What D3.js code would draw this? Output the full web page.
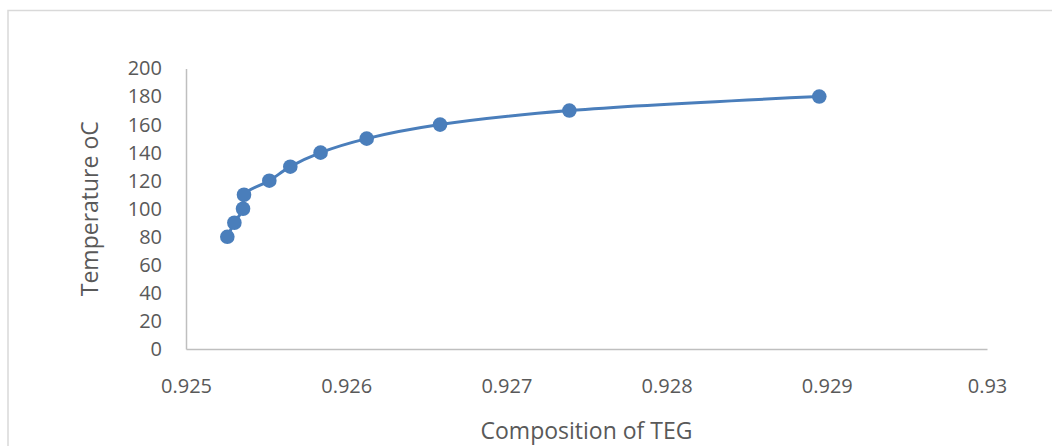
<!DOCTYPE html>
<html>
<head>
<meta charset="utf-8">
<script src="https://cdn.jsdelivr.net/npm/d3@7"></script>
<style>
  html, body { margin: 0; padding: 0; background: #fff; }
  svg { display: block; }
  text { font-family: "Open Sans", "Lato", sans-serif; fill: #595959; }
</style>
</head>
<body>
<svg id="chart" width="1052" height="446"></svg>
<script>
// TEG composition vs. temperature
const composition = [0.925258, 0.925302, 0.925356, 0.925362, 0.925520, 0.925651,
                     0.925840, 0.926128, 0.926586, 0.927393, 0.928953];
const temperature = [80, 90, 100, 110, 120, 130, 140, 150, 160, 170, 180];
const xTicks = [0.925, 0.926, 0.927, 0.928, 0.929, 0.93];
const yTicks = [0, 20, 40, 60, 80, 100, 120, 140, 160, 180, 200];
const xTitle = "Composition of TEG";
const yTitle = "Temperature oC";

const svg = d3.select("#chart");

// outer chart frame
svg.append("rect")
  .attr("x", 8).attr("y", 10.5)
  .attr("width", 1100).attr("height", 500)
  .attr("fill", "none").attr("stroke", "#d9d9d9").attr("stroke-width", 1.5);

const plot = { left: 186, right: 987, top: 68.5, bottom: 349 };

const x = d3.scaleLinear().domain([0.925, 0.93]).range([plot.left, plot.right]);
const y = d3.scaleLinear().domain([0, 200]).range([plot.bottom, plot.top]);

// x axis
const xAxis = svg.append("g")
  .attr("transform", `translate(0,${plot.bottom})`)
  .call(d3.axisBottom(x).tickValues(xTicks).tickSize(0).tickPadding(30)
        .tickFormat(d => String(+d.toFixed(3))));
xAxis.select(".domain").attr("stroke", "#bfbfbf").attr("stroke-width", 1.5);
xAxis.selectAll("text").attr("font-size", 20).attr("fill", "#595959")
  .style("font-family", "'Open Sans', sans-serif");

// y axis
const yAxis = svg.append("g")
  .attr("transform", `translate(${plot.left},0)`)
  .call(d3.axisLeft(y).tickValues(yTicks).tickSize(0).tickPadding(24));
yAxis.select(".domain").attr("stroke", "#bfbfbf").attr("stroke-width", 1.5);
yAxis.selectAll("text").attr("font-size", 20).attr("fill", "#595959")
  .style("font-family", "'Open Sans', sans-serif");

// axis titles
svg.append("text")
  .attr("x", (plot.left + plot.right) / 2).attr("y", 439)
  .attr("text-anchor", "middle").attr("font-size", 23)
  .text(xTitle);

svg.append("text")
  .attr("transform", `translate(98,${(plot.top + plot.bottom) / 2}) rotate(-90)`)
  .attr("text-anchor", "middle").attr("font-size", 23)
  .text(yTitle);

// smoothed series line
const pts = composition.map((c, i) => [c, temperature[i]]);
const line = d3.line()
  .x(d => x(d[0])).y(d => y(d[1]))
  .curve(d3.curveCatmullRom.alpha(0.5));

svg.append("path")
  .datum(pts)
  .attr("d", line)
  .attr("fill", "none")
  .attr("stroke", "#4a7ebb")
  .attr("stroke-width", 3);

// markers
svg.append("g").selectAll("circle")
  .data(pts)
  .join("circle")
  .attr("cx", d => x(d[0])).attr("cy", d => y(d[1]))
  .attr("r", 7.3)
  .attr("fill", "#4a7ebb");
</script>
</body>
</html>
